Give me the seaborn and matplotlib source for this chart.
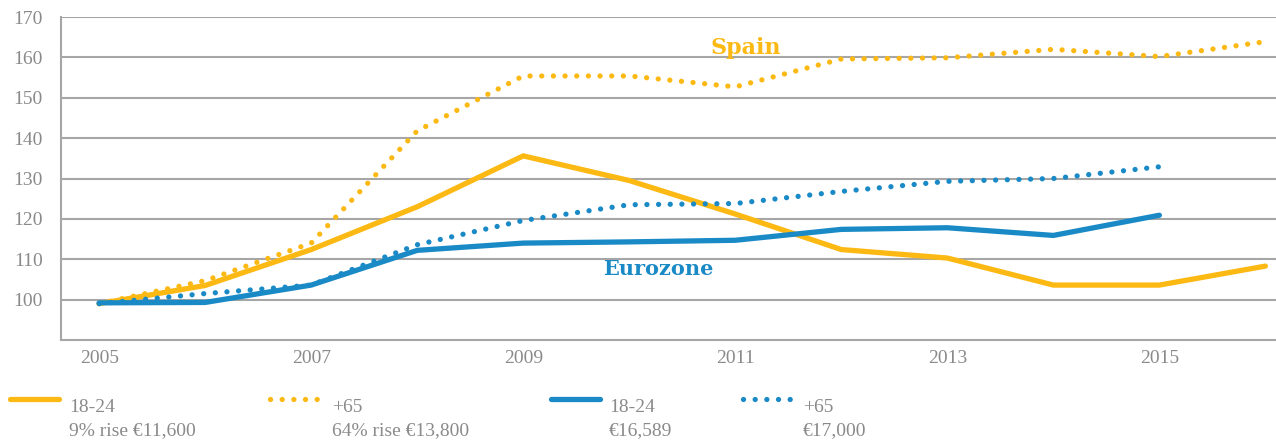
import matplotlib
matplotlib.use("Agg")
import matplotlib.pyplot as plt
from matplotlib.lines import Line2D
import seaborn as sns
import pandas as pd

# Data (index, 2005 = 100)
years = list(range(2005, 2017))
spain_18_24 = [99, 103.5, 112.4, 123, 135.6, 129.5, 121.2, 112.4, 110.3, 103.6, 103.6, 108.3]
spain_65 = [99, 104.7, 114.0, 141.8, 155.4, 155.4, 152.7, 159.6, 159.9, 162.0, 160.2, 163.9]
euro_18_24 = [99.2, 99.3, 103.6, 112.2, 114.0, 114.3, 114.7, 117.4, 117.8, 115.9, 120.9]
euro_65 = [99, 101.5, 103.6, 113.6, 119.6, 123.5, 123.8, 126.8, 129.3, 130.0, 132.9]

legend_top = ["18-24", "+65", "18-24", "+65"]
legend_bottom = ["9% rise €11,600", "64% rise €13,800", "€16,589", "€17,000"]

yticks = [100, 110, 120, 130, 140, 150, 160, 170]
xticks = [2005, 2007, 2009, 2011, 2013, 2015]

YELLOW = "#FDB913"
BLUE = "#1A8AC6"
GREY = "#8a8a8a"
GRID = "#a6a6a6"

series = [
    ("Spain 18-24", years, spain_18_24, YELLOW, "-"),
    ("Spain +65", years, spain_65, YELLOW, (0, (0.01, 2.2))),
    ("Eurozone 18-24", years[:len(euro_18_24)], euro_18_24, BLUE, "-"),
    ("Eurozone +65", years[:len(euro_65)], euro_65, BLUE, (0, (0.01, 2.2))),
]

sns.set_theme(style="white")
plt.rcParams["font.family"] = ["Liberation Serif", "DejaVu Serif"]

fig = plt.figure(figsize=(12.76, 4.42), dpi=100)
ax = fig.add_axes([0.0478, 0.2308, 0.9522, 0.7307])

for name, xs, ys, col, ls in series:
    df = pd.DataFrame({"year": xs, "value": ys})
    sns.lineplot(data=df, x="year", y="value", ax=ax, color=col, lw=3.8,
                 linestyle=ls, dash_capstyle="round", solid_capstyle="round",
                 solid_joinstyle="miter")

ax.set_xlim(2004.64, 2016.1)
ax.set_ylim(90, 170)
ax.set_yticks(yticks)
ax.set_xticks(xticks)
ax.set_xlabel("")
ax.set_ylabel("")
ax.yaxis.grid(True, color=GRID, lw=1.5)
ax.set_axisbelow(True)
for s in ["top", "right"]:
    ax.spines[s].set_visible(False)
for s in ["left", "bottom"]:
    ax.spines[s].set_color(GRID)
    ax.spines[s].set_linewidth(1.5)
ax.tick_params(axis="y", length=0, pad=13, labelsize=14, labelcolor=GREY)
ax.tick_params(axis="x", length=0, pad=7, labelsize=14, labelcolor=GREY)

ax.text(2011.1, 162.3, "Spain", color=YELLOW, fontsize=16, fontweight="bold",
        ha="center", va="center", family=["DejaVu Serif"])
ax.text(2010.27, 107.7, "Eurozone", color=BLUE, fontsize=15, fontweight="bold",
        ha="center", va="center", family=["DejaVu Serif"])

# manual legend below the plot
W, H = 1276, 442
handle_x = [(10, 59), (270, 319), (551, 600), (743, 795)]
text_x = [69, 332, 609, 803]
for (x0, x1), tx, (_, _, _, col, ls), top, bot in zip(handle_x, text_x, series,
                                                      legend_top, legend_bottom):
    fig.add_artist(Line2D([x0 / W, x1 / W], [1 - 399 / H, 1 - 399 / H],
                          transform=fig.transFigure, color=col, lw=3.8,
                          linestyle=ls, dash_capstyle="round",
                          solid_capstyle="round"))
    fig.text(tx / W, 1 - 407 / H, top, color=GREY, fontsize=14,
             ha="left", va="center")
    fig.text(tx / W, 1 - 431 / H, bot, color=GREY, fontsize=14,
             ha="left", va="center")

fig.savefig("out.png", dpi=100)
